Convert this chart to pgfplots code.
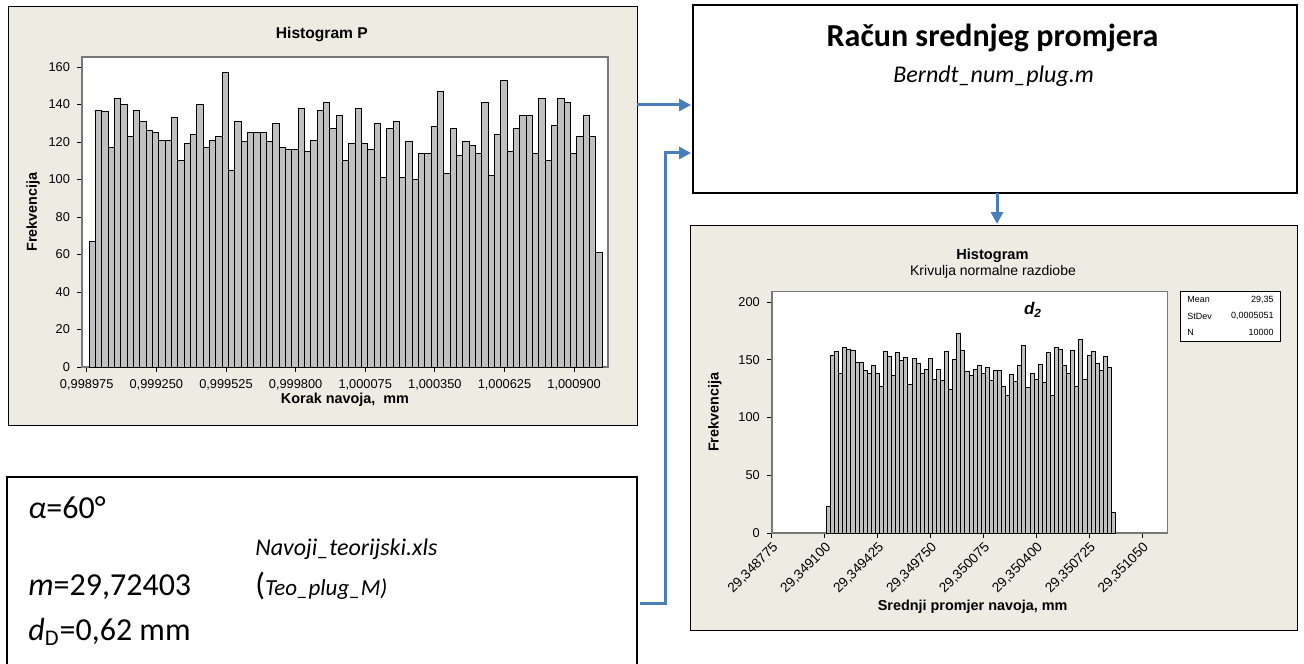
\documentclass[border=0pt]{standalone}
\usepackage{pgfplots}
\pgfplotsset{compat=1.18}
\usepackage{pgfplotstable}
\usepackage{fontspec}
\usetikzlibrary{arrows.meta}
\setmainfont{Carlito}
\newfontfamily\mtb{Liberation Sans}

\definecolor{beige}{RGB}{238,235,226}
\definecolor{barfill}{RGB}{192,192,192}
\definecolor{axgray}{RGB}{120,120,120}
\definecolor{arrowblue}{RGB}{74,126,187}

% Histogram P (korak navoja), 81 razreda
\pgfplotstableread{
y
67
137
136
117
143
140
123
137
131
126
125
121
121
133
110
119
124
140
117
121
123
157
105
131
120
125
125
125
120
130
117
116
116
138
115
121
137
141
127
134
110
119
138
119
116
130
101
127
131
101
120
100
114
114
128
147
103
127
113
120
118
114
141
102
124
153
115
127
134
134
114
143
110
129
143
141
114
123
134
123
61
}\korak

% Histogram d2, 71 razred
\pgfplotstableread{
y
23
154
157
138
161
159
158
148
148
141
138
145
138
127
157
153
136
156
149
152
129
151
147
138
142
151
133
142
132
157
124
150
173
158
140
136
142
145
138
143
132
141
141
127
119
137
131
145
162
126
138
133
146
130
156
119
161
159
145
138
158
127
168
133
154
157
147
141
153
143
18
}\promjer

\pgfplotsset{mtb/.style={
  scale only axis, anchor=south west,
  ybar, bar width=1, ymin=0,
  axis background/.style={fill=white},
  axis line style={draw=axgray, line width=0.7pt},
  tick align=outside, major tick length=2.5pt,
  tick style={draw=black, line width=0.4pt},
  xtick pos=bottom, ytick pos=left,
  tick label style={font=\mtb\fontsize{6.4}{7}\selectfont},
  /pgf/number format/assume math mode=true,
  label style={font=\mtb\bfseries\fontsize{7.2}{8}\selectfont},
  every axis title shift=0pt,
}}

\begin{document}
\begin{tikzpicture}
\useasboundingbox (0,0) rectangle (652pt,-331.5pt);

% panels
\filldraw[fill=beige, draw=black, line width=0.5pt] (4pt,-3.5pt) rectangle (318.5pt,-212.5pt);
\filldraw[fill=beige, draw=black, line width=0.5pt] (345pt,-112.5pt) rectangle (648.5pt,-315pt);
\draw[black, line width=0.9pt] (346.5pt,-2.5pt) rectangle (648.5pt,-96.5pt);
\draw[black, line width=0.9pt] (3.5pt,-238.5pt) rectangle (318.5pt,-333pt);

\begin{axis}[mtb, at={(41pt,-183.5pt)}, width=263pt, height=155pt,
  xmin=-1.65, xmax=81.44, ymax=165.3,
  xtick={-0.91,10.09,21.09,32.09,43.09,54.09,65.09,76.09},
  xticklabels={{0,998975},{0,999250},{0,999525},{0,999800},{1,000075},{1,000350},{1,000625},{1,000900}},
  ytick={0,20,...,160},
  title={Histogram P},
  title style={at={(axis description cs:0.456,1.074)}, anchor=center, font=\mtb\bfseries\fontsize{7.8}{9}\selectfont},
  xlabel={Korak navoja,\ \ mm}, xlabel style={at={(axis description cs:0.5,-0.106)}, anchor=center},
  ylabel={Frekvencija}, ylabel style={at={(axis description cs:-0.093,0.5)}, anchor=center}]
\addplot[fill=barfill, draw=black, line width=0.5pt] table[x expr=\coordindex, y=y] {\korak};
\end{axis}

\begin{axis}[mtb, at={(385.9pt,-266.5pt)}, width=197.7pt, height=120.65pt,
  xmin=-13.95, xmax=83.2, ymax=209,
  xtick={-13.95,-0.95,12.05,25.05,38.05,51.05,64.05,77.05},
  xticklabels={{29,348775},{29,349100},{29,349425},{29,349750},{29,350075},{29,350400},{29,350725},{29,351050}},
  xticklabel style={rotate=45, anchor=north east, inner sep=1pt, font=\mtb\fontsize{6.8}{8}\selectfont},
  ytick={0,50,...,200},
  title={Histogram},
  title style={at={(axis description cs:0.558,1.148)}, anchor=center, font=\mtb\bfseries\fontsize{7.3}{9}\selectfont},
  xlabel={Srednji promjer navoja, mm}, xlabel style={at={(axis description cs:0.508,-0.307)}, anchor=center},
  ylabel={Frekvencija}, ylabel style={at={(axis description cs:-0.144,0.5)}, anchor=center}]
\addplot[fill=barfill, draw=black, line width=0.5pt] table[x expr=\coordindex, y=y] {\promjer};
\end{axis}

% right chart extras
\node[font=\mtb\fontsize{7}{8}\selectfont] at (496.5pt,-136pt) {Krivulja normalne razdiobe};
\node[font=\mtb\bfseries\itshape\fontsize{8.5}{10}\selectfont] at (516.5pt,-155pt) {d\textsubscript{2}};
\filldraw[fill=white, draw=black, line width=0.5pt] (590pt,-145.5pt) rectangle (640pt,-170.5pt);
\begin{scope}[every node/.style={font=\mtb\fontsize{4.5}{5}\selectfont, inner sep=0}]
\node[anchor=west] at (593.5pt,-149.8pt) {Mean};
\node[anchor=east] at (637pt,-149.8pt) {29,35};
\node[anchor=west] at (593.5pt,-158pt) {StDev};
\node[anchor=east] at (637pt,-158pt) {0,0005051};
\node[anchor=west] at (593.5pt,-166.2pt) {N};
\node[anchor=east] at (637pt,-166.2pt) {10000};
\end{scope}

% top-right box
\node[anchor=base, font=\bfseries\fontsize{16}{19}\selectfont, inner sep=0] at (496.3pt,-23.3pt) {Račun srednjeg promjera};
\node[anchor=base, font=\itshape\fontsize{12}{14}\selectfont, inner sep=0] at (496.8pt,-41.3pt) {Berndt\_num\_plug.m};

% bottom-left box
\node[anchor=base west, font=\fontsize{16}{19}\selectfont, inner sep=0] at (14pt,-259pt) {\textit{α}=60°};
\node[anchor=base west, font=\itshape\fontsize{12}{14}\selectfont, inner sep=0] at (127.5pt,-277.5pt) {Navoji\_teorijski.xls};
\node[anchor=base west, font=\fontsize{16}{19}\selectfont, inner sep=0] at (14pt,-297.5pt) {\textit{m}=29,72403};
\node[anchor=base west, inner sep=0] at (127.5pt,-297.5pt) {{\fontsize{16}{19}\selectfont(}{\itshape\fontsize{11.5}{14}\selectfont Teo\_plug\_M)}};
\node[anchor=base west, font=\fontsize{16}{19}\selectfont, inner sep=0] at (14pt,-320pt) {\textit{d}\textsubscript{D}=0,62 mm};

% arrows
\begin{scope}[arrowblue, line width=1.5pt, -{Triangle[length=6pt,width=6pt]}]
\draw (318.5pt,-52.5pt) -- (345.5pt,-52.5pt);
\draw (320pt,-301.5pt) -- (332.5pt,-301.5pt) -- (332.5pt,-76.5pt) -- (345.5pt,-76.5pt);
\draw (498.5pt,-96.5pt) -- (498.5pt,-112pt);
\end{scope}
\end{tikzpicture}
\end{document}
